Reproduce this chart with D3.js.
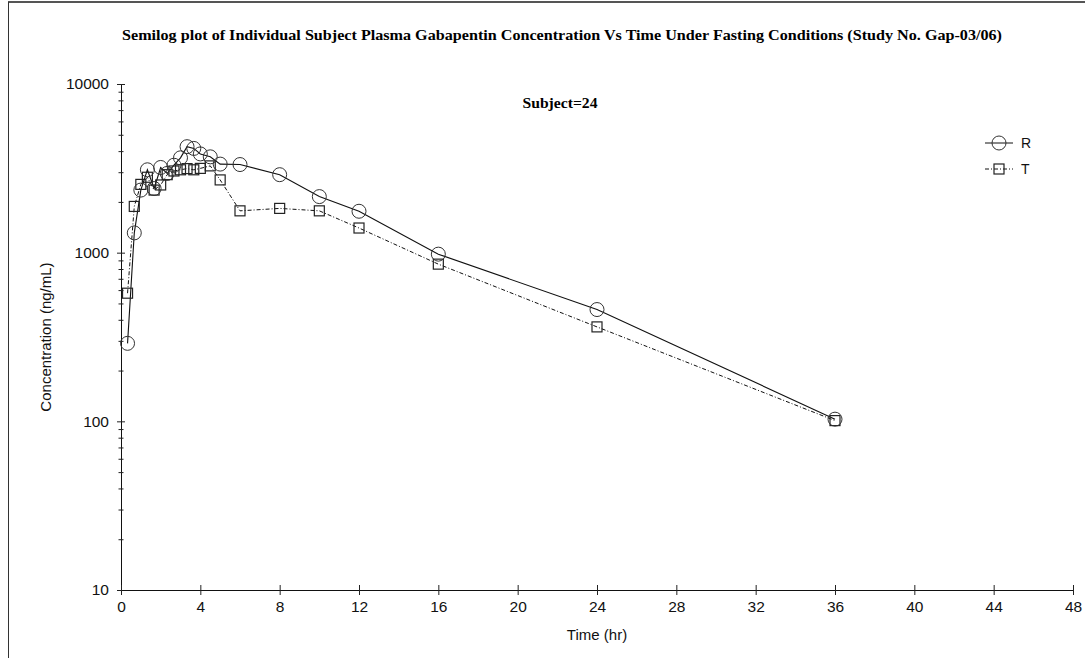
<!DOCTYPE html>
<html>
<head>
<meta charset="utf-8">
<script src="https://cdn.jsdelivr.net/npm/d3@7"></script>
<style>
  body { margin: 0; background: #fff; }
  svg { display: block; }
  .tick text { font-family: "Liberation Sans", Arial, sans-serif; font-size: 15.5px; fill: #111; }
</style>
</head>
<body>
<svg id="chart" width="1085" height="658"></svg>
<script>
// sampling times (hr)
var times = [0.33, 0.67, 1, 1.33, 1.67, 2, 2.33, 2.67, 3, 3.33, 3.67, 4, 4.5, 5, 6, 8, 10, 12, 16, 24, 36];
// reference (R) concentrations, ng/mL
var refConc = [290, 1310, 2350, 3100, 2400, 3200, 2950, 3300, 3650, 4250, 4150, 3850, 3700, 3350, 3330, 2900, 2150, 1760, 980, 460, 103];
// test (T) concentrations, ng/mL
var testConc = [575, 1880, 2540, 2800, 2350, 2520, 2900, 3050, 3100, 3150, 3100, 3160, 3270, 2700, 1770, 1830, 1770, 1400, 855, 363, 101];
var xTicks = [0, 4, 8, 12, 16, 20, 24, 28, 32, 36, 40, 44, 48];
var yMajor = [10, 100, 1000, 10000];
var seriesNames = ["R", "T"];

var svg = d3.select("#chart");

// scanned page frame
svg.append("line").attr("x1", 8).attr("x2", 1085).attr("y1", 2).attr("y2", 2)
    .attr("stroke", "#555").attr("stroke-width", 2);
svg.append("line").attr("x1", 8.5).attr("x2", 8.5).attr("y1", 2).attr("y2", 658)
    .attr("stroke", "#333").attr("stroke-width", 1);

var x = d3.scaleLinear().domain([0, 48]).range([121, 1073]);
var y = d3.scaleLog().domain([10, 10000]).range([590, 84]);

// y ticks: majors plus 2..9 minors
var yAll = [];
yMajor.forEach(function(m, i) {
    yAll.push(m);
    if (i < yMajor.length - 1) {
        for (var k = 2; k <= 9; k++) yAll.push(m * k);
    }
});

var yAxis = svg.append("g")
    .attr("transform", "translate(" + x(0) + ",0)")
    .call(d3.axisLeft(y).tickValues(yAll)
        .tickFormat(function(d) { return yMajor.indexOf(d) >= 0 ? d : ""; })
        .tickSizeOuter(0));
yAxis.select(".domain").attr("stroke", "#111");
yAxis.selectAll(".tick line")
    .attr("x1", function(d) { return yMajor.indexOf(d) >= 0 ? -4 : -2.5; })
    .attr("x2", function(d) { return yMajor.indexOf(d) >= 0 ? 4 : 2.5; })
    .attr("stroke", "#222");
yAxis.selectAll(".tick text").attr("x", -12);

var xAxis = svg.append("g")
    .attr("transform", "translate(0," + y(10) + ")")
    .call(d3.axisBottom(x).tickValues(xTicks).tickSizeOuter(0));
xAxis.select(".domain").attr("stroke", "#111");
xAxis.selectAll(".tick line").attr("y1", -5).attr("y2", 5).attr("stroke", "#222");
xAxis.selectAll(".tick text").attr("y", 11);

// titles
svg.append("text")
    .attr("x", 562).attr("y", 40)
    .attr("text-anchor", "middle")
    .attr("font-family", "Liberation Serif, Times New Roman, serif")
    .attr("font-weight", "bold").attr("font-size", 14)
    .attr("textLength", 880).attr("lengthAdjust", "spacingAndGlyphs")
    .text("Semilog plot of Individual Subject Plasma Gabapentin Concentration Vs Time Under Fasting Conditions (Study No. Gap-03/06)");

svg.append("text")
    .attr("x", 560).attr("y", 108)
    .attr("text-anchor", "middle")
    .attr("font-family", "Liberation Serif, Times New Roman, serif")
    .attr("font-weight", "bold").attr("font-size", 14)
    .attr("textLength", 75).attr("lengthAdjust", "spacingAndGlyphs")
    .text("Subject=24");

svg.append("text")
    .attr("x", 597).attr("y", 640)
    .attr("text-anchor", "middle")
    .attr("font-family", "Liberation Sans, Arial, sans-serif")
    .attr("font-size", 15).attr("fill", "#111")
    .text("Time (hr)");

svg.append("text")
    .attr("transform", "translate(51,337) rotate(-90)")
    .attr("text-anchor", "middle")
    .attr("font-family", "Liberation Sans, Arial, sans-serif")
    .attr("font-size", 15).attr("fill", "#111")
    .text("Concentration (ng/mL)");

// series
var refData = times.map(function(t, i) { return {t: t, c: refConc[i]}; });
var testData = times.map(function(t, i) { return {t: t, c: testConc[i]}; });

var line = d3.line()
    .x(function(d) { return x(d.t); })
    .y(function(d) { return y(d.c); });

svg.append("path").datum(testData)
    .attr("d", line).attr("fill", "none")
    .attr("stroke", "#111").attr("stroke-width", 1)
    .attr("stroke-dasharray", "4,2,1,2");

svg.append("path").datum(refData)
    .attr("d", line).attr("fill", "none")
    .attr("stroke", "#111").attr("stroke-width", 1.1);

var sq = 10;
svg.selectAll(".sq").data(testData).enter().append("rect")
    .attr("class", "sq")
    .attr("x", function(d) { return x(d.t) - sq / 2; })
    .attr("y", function(d) { return y(d.c) - sq / 2; })
    .attr("width", sq).attr("height", sq)
    .attr("fill", "none").attr("stroke", "#222").attr("stroke-width", 1.2);

svg.selectAll(".circ").data(refData).enter().append("circle")
    .attr("class", "circ")
    .attr("cx", function(d) { return x(d.t); })
    .attr("cy", function(d) { return y(d.c); })
    .attr("r", 7)
    .attr("fill", "none").attr("stroke", "#333").attr("stroke-width", 1);

// legend
var legend = svg.append("g");
seriesNames.forEach(function(name, i) {
    var ly = 143 + i * 26;
    var g = legend.append("g");
    g.append("line").attr("x1", 985).attr("x2", 1013).attr("y1", ly).attr("y2", ly)
        .attr("stroke", "#111").attr("stroke-width", 1)
        .attr("stroke-dasharray", i === 1 ? "4,2,1,2" : null);
    if (i === 0) {
        g.append("circle").attr("cx", 999).attr("cy", ly).attr("r", 7)
            .attr("fill", "none").attr("stroke", "#333");
    } else {
        g.append("rect").attr("x", 999 - sq / 2).attr("y", ly - sq / 2)
            .attr("width", sq).attr("height", sq)
            .attr("fill", "none").attr("stroke", "#222").attr("stroke-width", 1.2);
    }
    g.append("text").attr("x", 1021).attr("y", ly + 5)
        .attr("font-family", "Liberation Sans, Arial, sans-serif")
        .attr("font-size", 14).attr("fill", "#111")
        .text(name);
});
</script>
</body>
</html>
